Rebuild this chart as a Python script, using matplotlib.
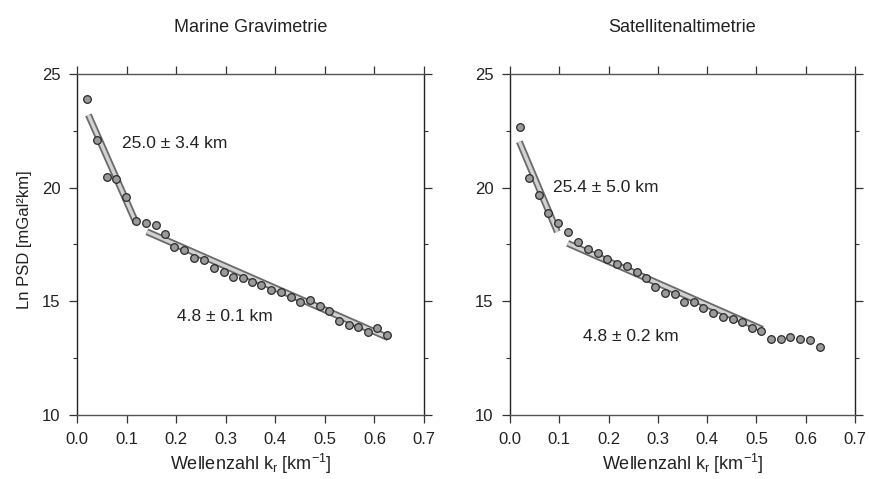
import matplotlib
matplotlib.use("Agg")
import matplotlib.pyplot as plt
import numpy as np

plt.rcParams['font.family'] = ['Liberation Sans', 'DejaVu Sans']
plt.rcParams['mathtext.fontset'] = 'custom'
plt.rcParams['mathtext.rm'] = 'Liberation Sans'
plt.rcParams['mathtext.it'] = 'Liberation Sans'

# ---------------- data ----------------
titles = ["Marine Gravimetrie", "Satellitenaltimetrie"]

k_marine = [0.021, 0.040, 0.060, 0.079, 0.099, 0.119, 0.139, 0.159, 0.178, 0.196,
            0.216, 0.237, 0.257, 0.276, 0.296, 0.315, 0.334, 0.354, 0.372, 0.391,
            0.411, 0.432, 0.450, 0.470, 0.490, 0.509, 0.529, 0.548, 0.567, 0.587,
            0.606, 0.626]
psd_marine = [23.9, 22.1, 20.48, 20.37, 19.58, 18.53, 18.43, 18.35, 17.96, 17.37,
              17.27, 16.9, 16.8, 16.47, 16.29, 16.08, 16.03, 15.87, 15.74, 15.51,
              15.39, 15.2, 14.98, 15.06, 14.8, 14.59, 14.13, 13.96, 13.88, 13.66,
              13.84, 13.52]

k_sat = [0.020, 0.039, 0.058, 0.078, 0.098, 0.118, 0.137, 0.158, 0.178, 0.197,
         0.218, 0.237, 0.257, 0.276, 0.295, 0.315, 0.335, 0.354, 0.373, 0.392,
         0.412, 0.432, 0.452, 0.471, 0.491, 0.510, 0.530, 0.549, 0.569, 0.589,
         0.608, 0.629]
psd_sat = [22.68, 20.41, 19.68, 18.87, 18.46, 18.07, 17.6, 17.29, 17.11, 16.85,
           16.64, 16.57, 16.3, 16.01, 15.62, 15.35, 15.31, 14.98, 14.98, 14.69,
           14.47, 14.32, 14.21, 14.1, 13.81, 13.7, 13.33, 13.33, 13.42, 13.33,
           13.3, 12.98]

# fitted line segments (endpoints): [(k0, k1), (p0, p1)]
fits_marine = [((0.023, 0.119), (23.2, 18.46)),
               ((0.141, 0.628), (18.06, 13.40))]
fits_sat = [((0.019, 0.096), (22.02, 18.06)),
            ((0.117, 0.512), (17.55, 13.77))]

labels_marine = [("25.0 ± 3.4 km", 0.091, 21.96), ("4.8 ± 0.1 km", 0.202, 14.35)]
labels_sat = [("25.4 ± 5.0 km", 0.087, 20.0), ("4.8 ± 0.2 km", 0.148, 13.44)]

xticks = [0.0, 0.1, 0.2, 0.3, 0.4, 0.5, 0.6, 0.7]
xticklabels = ["0.0", "0.1", "0.2", "0.3", "0.4", "0.5", "0.6", "0.7"]
yticks = [10, 15, 20, 25]
yminor = [12.5, 17.5, 22.5]

# ---------------- figure ----------------
W, H = 870, 479
fig = plt.figure(figsize=(W / 100, H / 100), dpi=100)
fig.patch.set_facecolor('white')

txt = '#222222'
boxes = [(77, 424), (510, 855)]
top_px, bot_px = 74, 415

panels = [(k_marine, psd_marine, fits_marine, labels_marine),
          (k_sat, psd_sat, fits_sat, labels_sat)]

for i, ((x0, x1), (k, p, fits, labs)) in enumerate(zip(boxes, panels)):
    ax = fig.add_axes([x0 / W, 1 - bot_px / H, (x1 - x0) / W, (bot_px - top_px) / H])
    ax.set_xlim(0, 0.7)
    ax.set_ylim(10, 25)
    for (kk, pp) in fits:
        ax.plot(kk, pp, color='#6a6a6a', lw=5.0, solid_capstyle='butt', zorder=2)
        ax.plot(kk, pp, color='#d2d2d2', lw=2.4, solid_capstyle='butt', zorder=3)
    ax.plot(k, p, 'o', ms=5.5, mfc='#9a9a9a', mec='#2a2a2a', mew=0.9, zorder=4)
    for (s, tx, ty) in labs:
        ax.text(tx, ty, s, fontsize=12.5, color=txt, ha='left', va='center')

    ax.set_xticks(xticks)
    ax.set_xticklabels(xticklabels)
    ax.set_yticks(yticks)
    ax.set_yticks(yminor, minor=True)
    ax.tick_params(axis='both', which='major', direction='out', length=5.5,
                   width=0.9, color='#333333', labelsize=12, labelcolor=txt,
                   top=True, right=True, pad=6.5)
    ax.tick_params(axis='y', which='minor', direction='out', length=2.8,
                   width=0.8, color='#333333', right=True)
    for sp in ['left', 'right']:
        ax.spines[sp].set_color('#222222')
        ax.spines[sp].set_linewidth(1.0)
    for sp in ['top', 'bottom']:
        ax.spines[sp].set_color('#555555')
        ax.spines[sp].set_linewidth(1.0)

    cx = (x0 + x1) / 2 / W
    fig.text(cx, 1 - 28 / H, titles[i], fontsize=13, color=txt, ha='center', va='center')
    fig.text(cx, 1 - 464 / H, r"Wellenzahl k$_\mathrm{r}$ [km$^{\mathrm{-1}}$]",
             fontsize=13, color=txt, ha='center', va='center')

fig.text(25 / W, 1 - 240 / H, "Ln PSD [mGal²km]", fontsize=12, color=txt,
         rotation=90, ha='center', va='center')

fig.savefig("out.png", dpi=100, facecolor='white')
